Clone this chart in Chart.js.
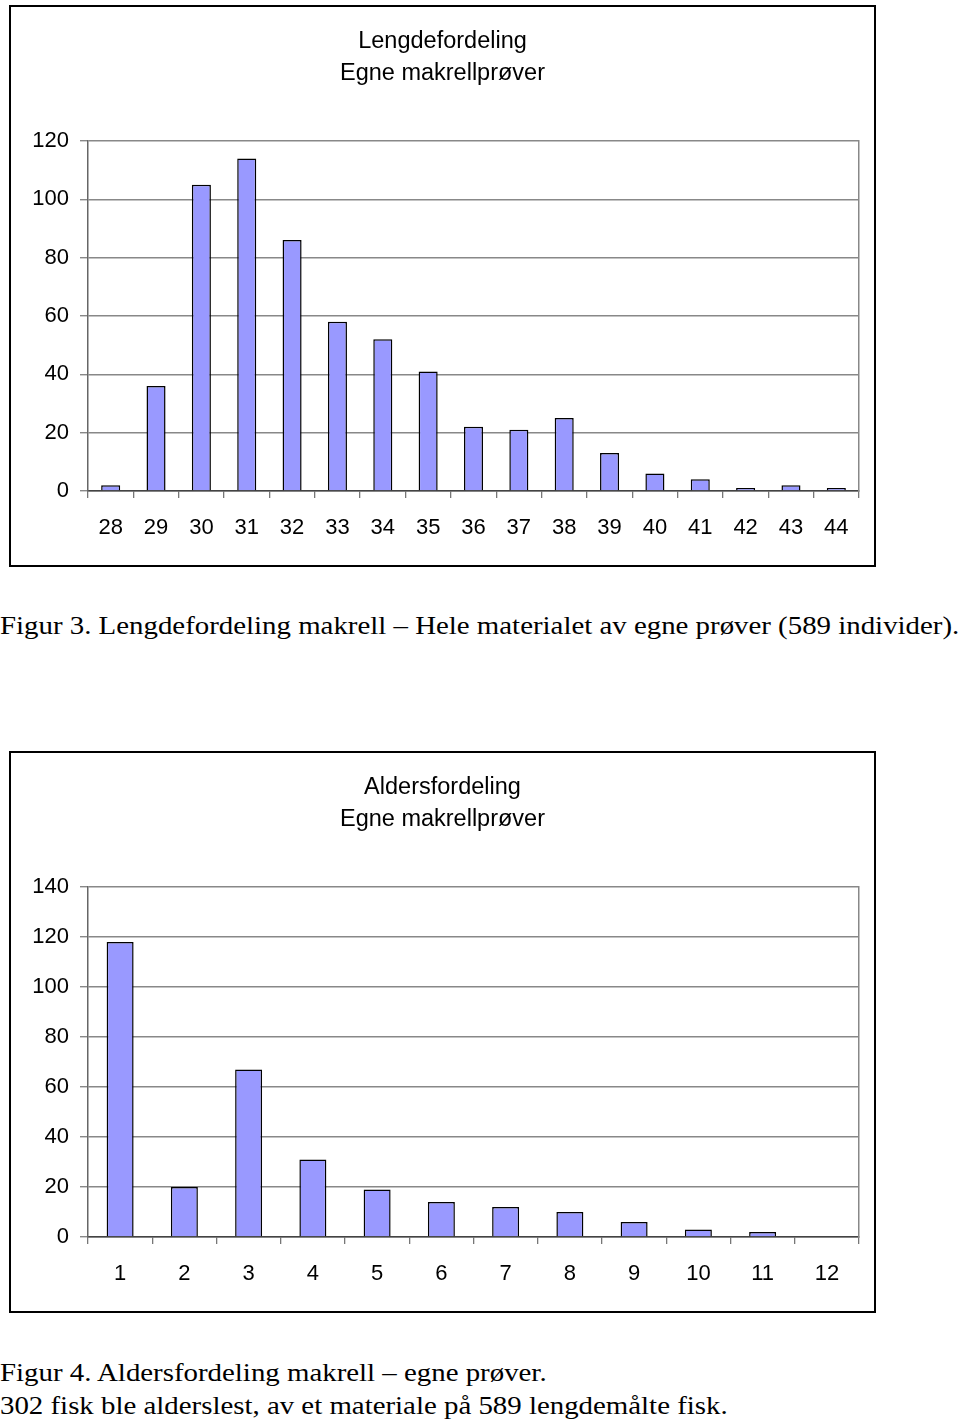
<!DOCTYPE html>
<html>
<head>
<meta charset="utf-8">
<script src="https://cdn.jsdelivr.net/npm/chart.js@4"></script>
<style>
  html, body { margin: 0; padding: 0; background: #fff; }
  body { width: 960px; height: 1426px; position: relative; overflow: hidden; }
  .box { position: absolute; left: 9px; width: 867px; height: 562px; border: 2px solid #000; box-sizing: border-box; background: #fff; }
  .box canvas { position: absolute; left: 0; top: 0; }
  .cap { position: absolute; left: 0; font-family: "Liberation Serif", "Times New Roman", serif; font-size: 26px; line-height: 33px; color: #000; white-space: nowrap; transform: scaleX(1.11); transform-origin: 0 0; }
</style>
</head>
<body>
<div class="box" style="top:5px;"><canvas id="c1" width="863" height="558"></canvas></div>
<div class="cap" style="top:609px;">Figur 3. Lengdefordeling makrell – Hele materialet av egne prøver (589 individer).</div>
<div class="box" style="top:751px;"><canvas id="c2" width="863" height="558"></canvas></div>
<div class="cap" style="top:1356px;">Figur 4. Aldersfordeling makrell – egne prøver.<br>302 fisk ble alderslest, av et materiale på 589 lengdemålte fisk.</div>
<script>
// Chart 1: length distribution
const lengthCategories = ['28','29','30','31','32','33','34','35','36','37','38','39','40','41','42','43','44'];
const lengthCounts = [2, 36, 105, 114, 86, 58, 52, 41, 22, 21, 25, 13, 6, 4, 1, 2, 1];
const lengthTitle = ['Lengdefordeling', 'Egne makrellprøver'];
const lengthYMax = 120;

// Chart 2: age distribution
const ageCategories = ['1','2','3','4','5','6','7','8','9','10','11','12'];
const ageCounts = [118, 20, 67, 31, 19, 14, 12, 10, 6, 3, 2, 0];
const ageTitle = ['Aldersfordeling', 'Egne makrellprøver'];
const ageYMax = 140;

const yStep = 20;

function makeChart(id, labels, values, title, ymax) {
  const font = { family: '"Liberation Sans", Arial, sans-serif', size: 22 };
  return new Chart(document.getElementById(id), {
    type: 'bar',
    data: {
      labels: labels,
      datasets: [{
        data: values,
        backgroundColor: '#9999FF',
        borderColor: '#000000',
        borderWidth: 1.5,
        barPercentage: 0.42,
        categoryPercentage: 1.0
      }]
    },
    options: {
      responsive: false,
      animation: false,
      devicePixelRatio: 1,
      layout: { padding: { left: 0, right: 0, top: 0, bottom: 0 } },
      plugins: {
        legend: { display: false },
        tooltip: { enabled: false },
        title: {
          display: true,
          text: title,
          color: '#000',
          font: { family: '"Liberation Sans", Arial, sans-serif', size: 23.5, weight: 'normal', lineHeight: 1.36 },
          padding: { top: 19, bottom: 51 }
        }
      },
      scales: {
        x: {
          offset: true,
          grid: { display: true, drawOnChartArea: false, drawTicks: true, tickLength: 7, offset: true, color: '#777', lineWidth: 1.3 },
          border: { display: true, color: '#444', width: 1.5 },
          ticks: { color: '#000', font: font, padding: 17, maxRotation: 0, autoSkip: false },
          afterFit: (s) => { s.height = 74; }
        },
        y: {
          min: 0, max: ymax,
          grid: { color: '#888', lineWidth: 1.4, drawTicks: true, tickLength: 8 },
          border: { display: true, color: '#666', width: 1.5 },
          ticks: { stepSize: yStep, color: '#000', font: font, padding: 11 },
          afterFit: (s) => { s.width = 77; }
        },
        y2: {
          position: 'right',
          display: true,
          grid: { drawOnChartArea: false, drawTicks: false },
          border: { display: true, color: '#888', width: 1.5 },
          ticks: { display: false },
          afterFit: (s) => { s.width = 15; }
        }
      }
    }
  });
}

makeChart('c1', lengthCategories, lengthCounts, lengthTitle, lengthYMax);
makeChart('c2', ageCategories, ageCounts, ageTitle, ageYMax);
</script>
</body>
</html>
